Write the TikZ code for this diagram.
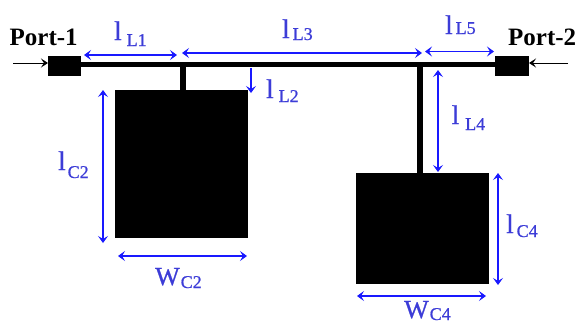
\documentclass[tikz,border=0pt]{standalone}
\usepackage{fontspec}
\setmainfont{Liberation Serif}
\newfontfamily\labfont[FakeBold=0.8]{Liberation Serif}
\usetikzlibrary{arrows.meta}
\definecolor{dimblue}{RGB}{25,25,255}
\definecolor{labblue}{RGB}{60,60,215}
\newcommand{\dimlab}[4]{{\labfont\fontsize{27}{27}\selectfont #1}\hspace{#3pt}\raisebox{-#4pt}{\labfont\fontsize{18}{18}\selectfont #2}}
\newcommand{\widlab}[4]{{\labfont\fontsize{26}{26}\selectfont #1}\hspace{#3pt}\raisebox{-#4pt}{\labfont\fontsize{18}{18}\selectfont #2}}
\tikzset{
  patch/.style={fill=black,draw=none,inner sep=0pt,outer sep=0pt},
  feedline/.style={draw=black,line width=5pt},
  stubline/.style={draw=black,line width=6pt},
  portarrow/.style={draw=black,line width=0.9pt,-{Stealth[length=7pt,width=9pt,inset=3pt]}},
  dimboth/.style={draw=dimblue,line width=1.4pt,{Stealth[length=7pt,width=10pt,inset=3pt]}-{Stealth[length=7pt,width=10pt,inset=3pt]}},
  dimone/.style={draw=dimblue,line width=1.4pt,-{Stealth[length=7pt,width=10pt,inset=3pt]}},
  dimlabel/.style={text=labblue,inner sep=0pt,anchor=base west},
  portlabel/.style={text=black,inner sep=0pt,anchor=base west,font=\fontsize{25}{25}\selectfont\bfseries}
}
\begin{document}
\begin{tikzpicture}[x=1pt,y=-1pt]
\useasboundingbox (0,0) rectangle (579,325);
% patches
\node[patch,minimum width=33pt,minimum height=20pt] (p1) at (64.5,65.5) {};
\node[patch,minimum width=34pt,minimum height=20pt] (p2) at (512,65.5) {};
\node[patch,minimum width=133pt,minimum height=148pt] (c2) at (181.5,164) {};
\node[patch,minimum width=133pt,minimum height=111pt] (c4) at (422.5,228.5) {};
\coordinate (j1) at (183,64.5);
\coordinate (j2) at (420,64.5);
\draw[feedline] (p1.east |- j1) -- (p2.west |- j1);
\draw[stubline] (j1) -- (j1 |- c2.north);
\draw[stubline] (j2) -- (j2 |- c4.north);
% port arrows
\coordinate (a1) at (13,63);
\coordinate (a2) at (568,63);
\draw[portarrow] (a1) -- (a1 -| p1.west);
\draw[portarrow] (a2) -- (a2 -| p2.east);
% dimension arrows
\coordinate (l1a) at (84,55); \coordinate (l1b) at (177,55);
\coordinate (l3a) at (182,53); \coordinate (l3b) at (422,53);
\coordinate (l5a) at (425,51.5); \coordinate (l5b) at (494,51.5);
\coordinate (l2a) at (251,68); \coordinate (l2b) at (251,93);
\coordinate (l4a) at (438,70); \coordinate (l4b) at (438,172);
\coordinate (c2a) at (103,90); \coordinate (c2b) at (103,243);
\coordinate (w2a) at (118,256); \coordinate (w2b) at (247,256);
\coordinate (w4a) at (357,296); \coordinate (w4b) at (486,296);
\coordinate (c4a) at (498,173); \coordinate (c4b) at (498,285);
\draw[dimboth] (l1a) -- (l1b);
\draw[dimboth] (l3a) -- (l3b);
\draw[dimboth] (l5a) -- (l5b);
\draw[dimone] (l2a) -- (l2b);
\draw[dimboth] (l4a) -- (l4b);
\draw[dimboth] (c2a) -- (c2b);
\draw[dimboth] (w2a) -- (w2b);
\draw[dimboth] (w4a) -- (w4b);
\draw[dimboth] (c4a) -- (c4b);
% labels
\node[portlabel] (port1) at (9.5,45) {Port-1};
\node[portlabel] (port2) at (508,45) {Port-2};
\node[dimlabel] (tl1) at (114,40) {\dimlab{l}{L1}{5}{6}};
\node[dimlabel] (tl3) at (282,38) {\dimlab{l}{L3}{3}{2}};
\node[dimlabel] (tl5) at (445,34) {\dimlab{l}{L5}{3}{0}};
\node[dimlabel] (tl2) at (266,98) {\dimlab{l}{L2}{5}{4}};
\node[dimlabel] (tl4) at (451.5,124) {\dimlab{l}{L4}{6}{6}};
\node[dimlabel] (tc2) at (58,170) {\dimlab{l}{C2}{2}{8}};
\node[dimlabel] (tc4) at (506,233) {\dimlab{l}{C4}{3}{4}};
\node[dimlabel] (tw2) at (155,285) {\widlab{W}{C2}{1}{3}};
\node[dimlabel] (tw4) at (404,318) {\widlab{W}{C4}{1}{2}};
\end{tikzpicture}
\end{document}
